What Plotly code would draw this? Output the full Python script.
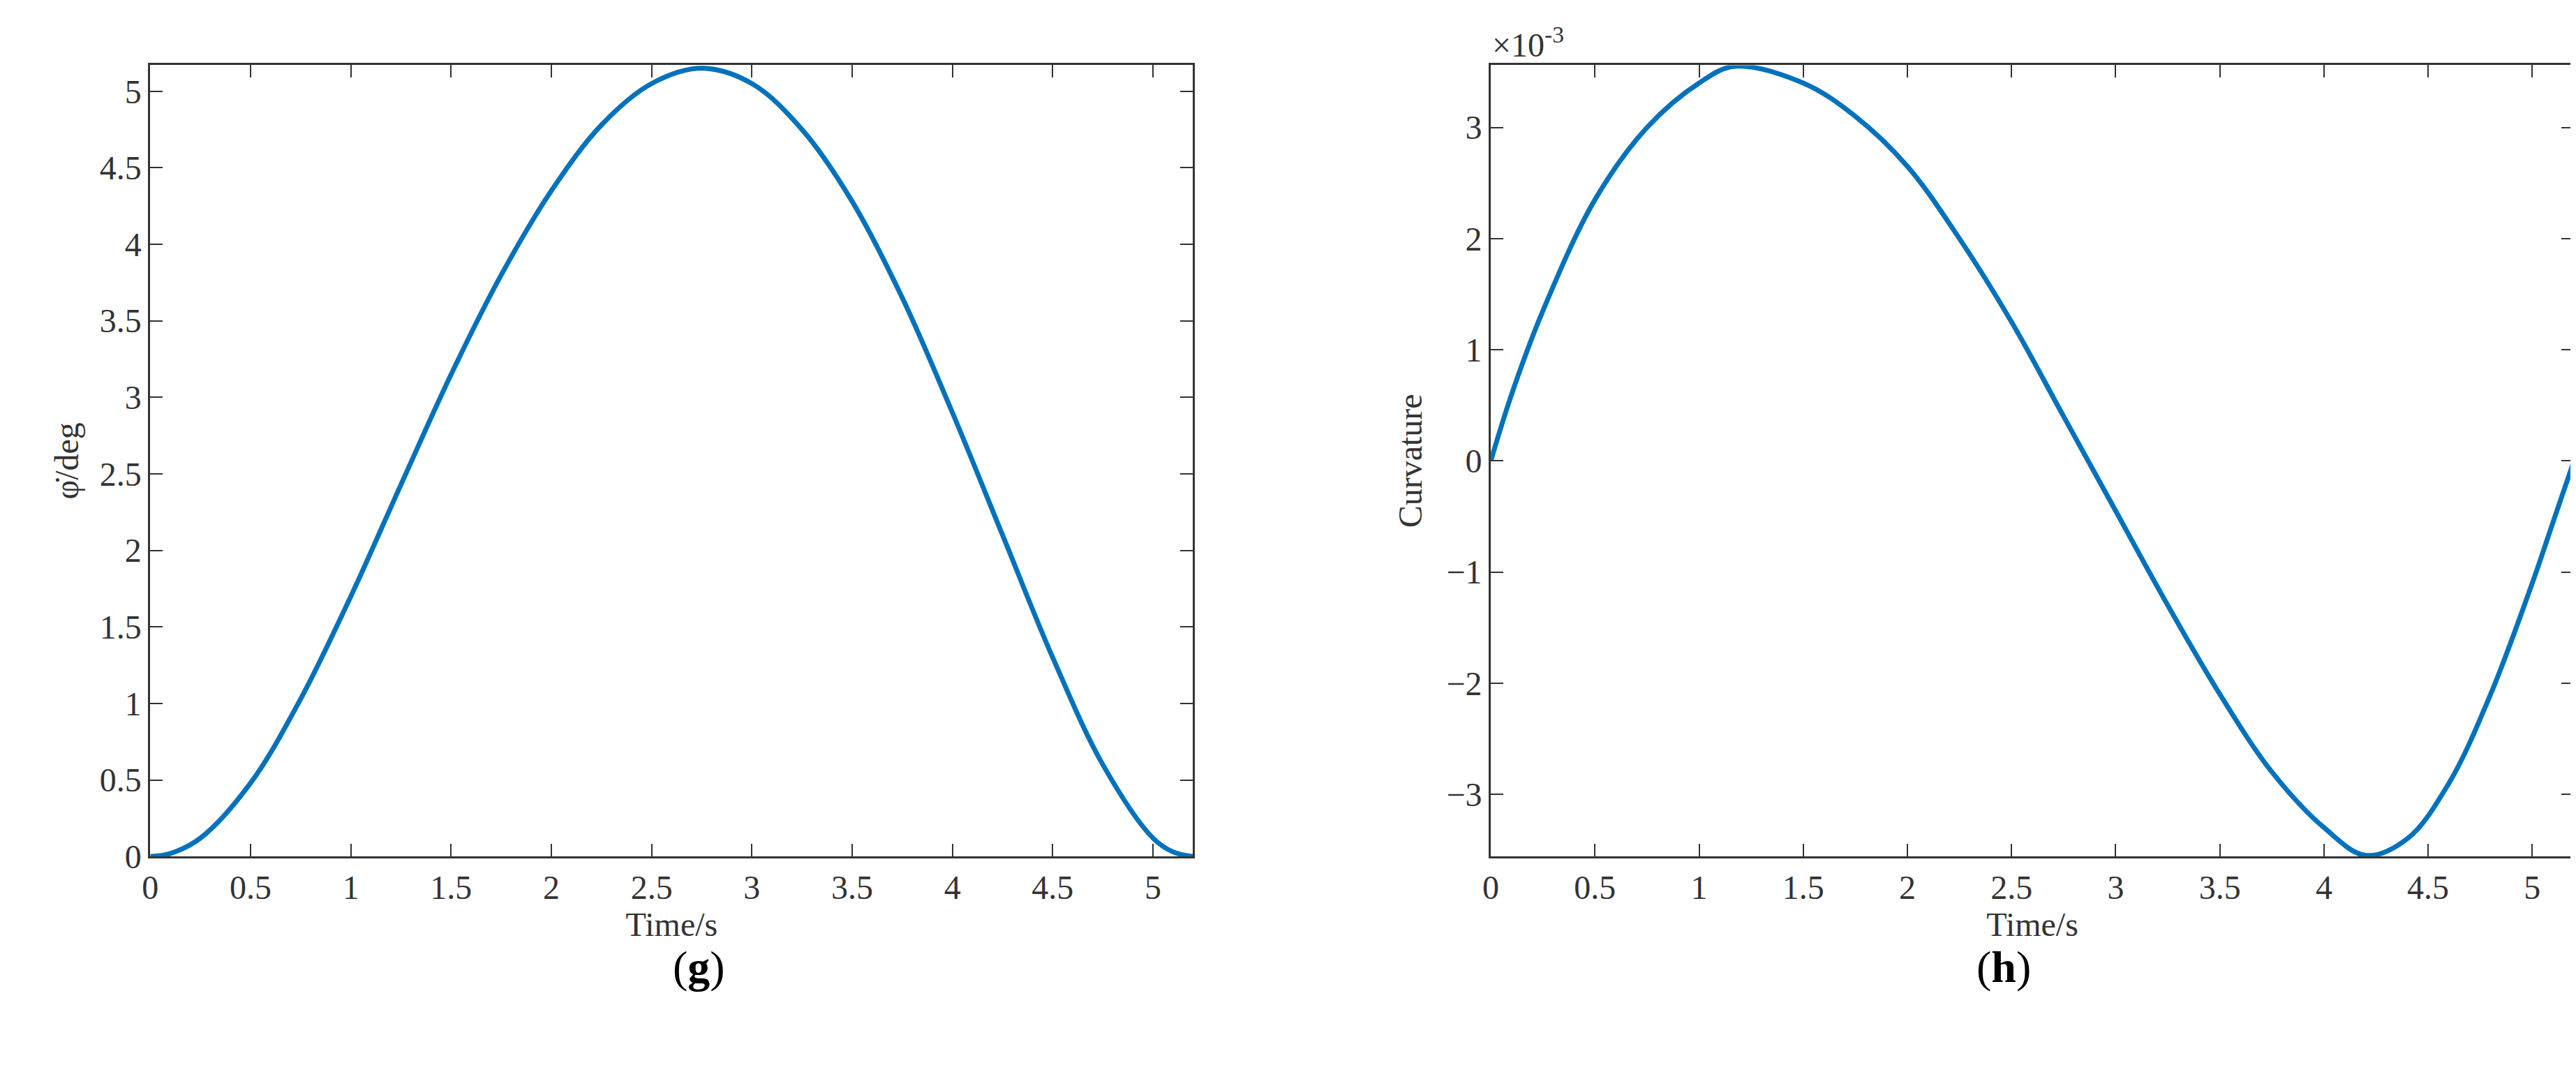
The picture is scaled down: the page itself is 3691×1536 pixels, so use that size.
import plotly.graph_objects as go

t_phi = [0, 0.1, 0.25, 0.5, 0.75, 1.0, 1.25, 1.5, 1.75, 2.0, 2.25, 2.5, 2.75, 3.0, 3.25, 3.5, 3.75, 4.0, 4.25, 4.5, 4.75, 5.0, 5.1, 5.2]
phi = [0, 0.02, 0.12, 0.48, 1.03, 1.7, 2.43, 3.15, 3.8, 4.35, 4.78, 5.05, 5.15, 5.05, 4.75, 4.28, 3.65, 2.9, 2.1, 1.3, 0.6, 0.12, 0.03, 0]
t_k = [0, 0.1, 0.25, 0.5, 0.75, 1.0, 1.17, 1.5, 1.75, 2.0, 2.25, 2.5, 2.75, 3.0, 3.25, 3.5, 3.75, 4.0, 4.2, 4.4, 4.6, 4.8, 5.0, 5.1, 5.2]
curv = [0, 0.6, 1.35, 2.35, 3.0, 3.4, 3.55, 3.4, 3.1, 2.65, 2.0, 1.25, 0.4, -0.45, -1.3, -2.1, -2.8, -3.3, -3.55, -3.4, -2.9, -2.1, -1.1, -0.55, 0]
x_ticks = [0, 0.5, 1, 1.5, 2, 2.5, 3, 3.5, 4, 4.5, 5]
y_ticks_phi = [0, 0.5, 1, 1.5, 2, 2.5, 3, 3.5, 4, 4.5, 5]
y_ticks_k = [-3, -2, -1, 0, 1, 2, 3]

FONT = "Liberation Serif"
BLUE = "#0072BD"
fig = go.Figure()
fig.add_trace(go.Scatter(x=t_phi, y=phi, mode="lines", line=dict(color=BLUE, width=7, shape="spline", smoothing=1.0), xaxis="x", yaxis="y", showlegend=False))
fig.add_trace(go.Scatter(x=t_k, y=curv, mode="lines", line=dict(color=BLUE, width=7, shape="spline", smoothing=1.0), xaxis="x2", yaxis="y2", showlegend=False))

W, H = 3691, 1536
TF = dict(family=FONT, size=48, color="#333")
ax = dict(showline=True, mirror="allticks", linecolor="#333", linewidth=3, ticks="inside", ticklen=18, tickwidth=2,
          tickcolor="#333", showgrid=False, zeroline=False, tickfont=TF)
fig.update_layout(
    width=W, height=H, paper_bgcolor="white", plot_bgcolor="white",
    margin=dict(l=0, r=0, t=0, b=0),
    xaxis=dict(ax, domain=[196/W, 1695/W], range=[0, 5.2], tickvals=x_ticks, anchor="y",
               title=dict(text="Time/s", font=TF, standoff=8)),
    yaxis=dict(ax, domain=[1-1241/H, 1-87/H], range=[0, 5.17], tickvals=y_ticks_phi, anchor="x",
               title=dict(text="φ̇/deg", font=TF, standoff=15)),
    xaxis2=dict(ax, domain=[2123/W, 3680/W], range=[0, 5.2], tickvals=x_ticks, anchor="y2",
                title=dict(text="Time/s", font=TF, standoff=8)),
    yaxis2=dict(ax, domain=[1-1241/H, 1-87/H], range=[-3.56, 3.56], tickvals=y_ticks_k, anchor="x2",
                title=dict(text="Curvature", font=TF, standoff=20)),
    annotations=[
        dict(text="×10<sup>-3</sup>", xref="paper", yref="paper", x=2123/W, y=1-87/H, xanchor="left", yanchor="bottom",
             showarrow=False, font=TF),
        dict(text="(<b>g</b>)", xref="paper", yref="paper", x=(196+1695)/2/W, y=1-1440/H, showarrow=False,
             font=dict(family=FONT, size=64, color="black")),
        dict(text="(<b>h</b>)", xref="paper", yref="paper", x=(2123+3680)/2/W, y=1-1440/H, showarrow=False,
             font=dict(family=FONT, size=64, color="black")),
    ],
)
fig.write_html("out.html")
